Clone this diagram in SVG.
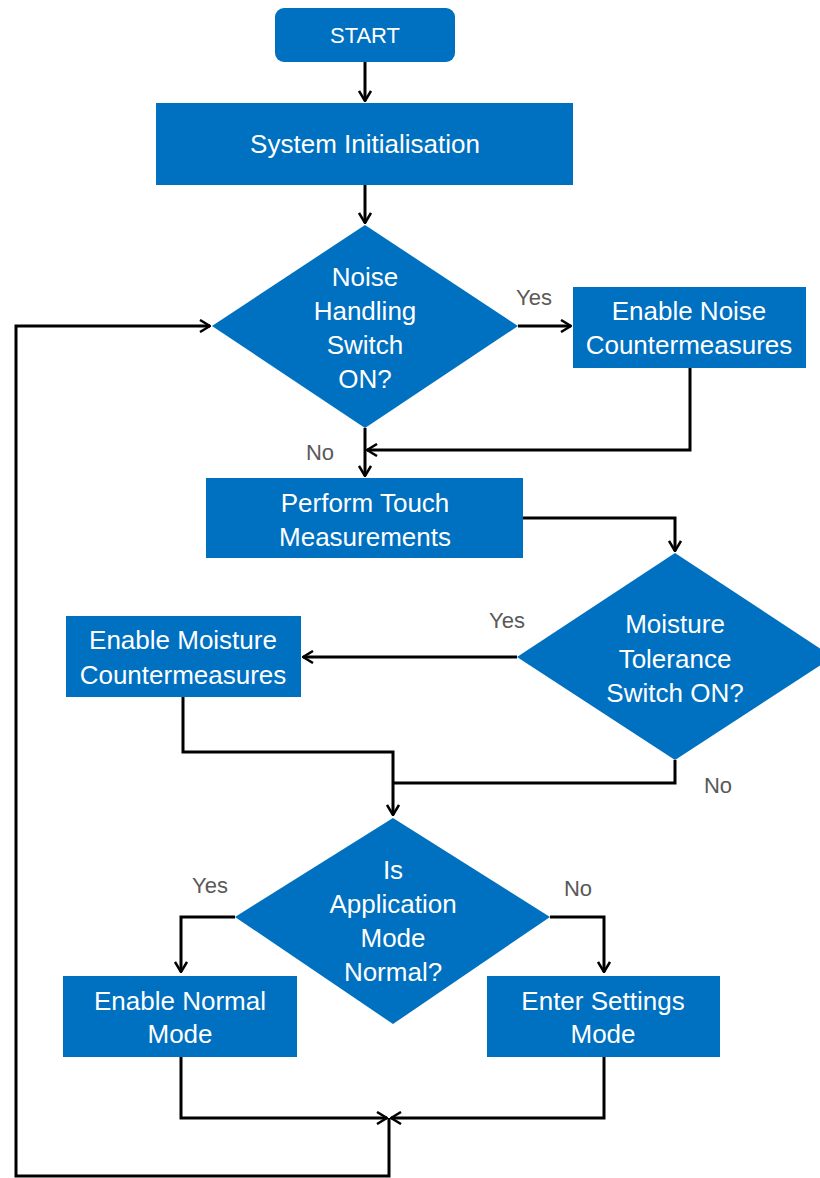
<svg xmlns="http://www.w3.org/2000/svg" width="820" height="1178" viewBox="0 0 820 1178">
<style>
.box{fill:#0070C0}
.t{font-family:"Liberation Sans",Arial,sans-serif;font-size:26px;fill:#fff;text-anchor:middle}
.lbl{font-family:"Liberation Sans",Arial,sans-serif;font-size:22px;fill:#595959;text-anchor:middle}
.c{fill:none;stroke:#000;stroke-width:3}
</style>
<defs>
<marker id="ah" markerUnits="userSpaceOnUse" viewBox="0 0 12 14" refX="11" refY="7" markerWidth="12" markerHeight="14" orient="auto">
<path d="M1,1 L11,7 L1,13" fill="none" stroke="#000" stroke-width="2.5"/>
</marker>
</defs>
<rect width="820" height="1178" fill="#fff"/>
<g id="connectors">
<path class="c" d="M365,62 V101" marker-end="url(#ah)"/>
<path class="c" d="M365,185 V223" marker-end="url(#ah)"/>
<path class="c" d="M518,326 H571" marker-end="url(#ah)"/>
<path class="c" d="M690,368 V450 H367" marker-end="url(#ah)"/>
<path class="c" d="M365,428 V476" marker-end="url(#ah)"/>
<path class="c" d="M523,518 H675 V551" marker-end="url(#ah)"/>
<path class="c" d="M517,657 H303" marker-end="url(#ah)"/>
<path class="c" d="M183,697 V752 H393 V815" marker-end="url(#ah)"/>
<path class="c" d="M675,760 V783 H393"/>
<path class="c" d="M235,917 H181 V972" marker-end="url(#ah)"/>
<path class="c" d="M550,917 H604 V972" marker-end="url(#ah)"/>
<path class="c" d="M181,1057 V1118 H387" marker-end="url(#ah)"/>
<path class="c" d="M604,1057 V1118 H391" marker-end="url(#ah)"/>
<path class="c" d="M389,1118 V1176 H16 V326 H210" marker-end="url(#ah)"/>
</g>
<g id="start">
<rect class="box" x="275" y="8" width="180" height="54" rx="9"/>
<text class="t" x="365" y="43" style="font-size:22px">START</text>
</g>
<g id="init">
<rect class="box" x="156" y="103" width="417" height="82"/>
<text class="t" x="365" y="153">System Initialisation</text>
</g>
<g id="noise-decision">
<polygon class="box" points="365,225 518,326 365,428 212,326"/>
<text class="t" x="365" y="286">Noise</text>
<text class="t" x="365" y="320">Handling</text>
<text class="t" x="365" y="354">Switch</text>
<text class="t" x="365" y="388">ON?</text>
</g>
<text class="lbl" x="534" y="305">Yes</text>
<g id="noise-cm">
<rect class="box" x="573" y="287" width="233" height="81"/>
<text class="t" x="689" y="320">Enable Noise</text>
<text class="t" x="689" y="354">Countermeasures</text>
</g>
<text class="lbl" x="320" y="460">No</text>
<g id="touch">
<rect class="box" x="206" y="478" width="317" height="80"/>
<text class="t" x="365" y="512">Perform Touch</text>
<text class="t" x="365" y="546">Measurements</text>
</g>
<g id="moisture-decision">
<polygon class="box" points="675,553 833,657 675,760 517,657"/>
<text class="t" x="675" y="633">Moisture</text>
<text class="t" x="675" y="668">Tolerance</text>
<text class="t" x="675" y="702">Switch ON?</text>
</g>
<text class="lbl" x="507" y="628">Yes</text>
<g id="moisture-cm">
<rect class="box" x="66" y="616" width="235" height="81"/>
<text class="t" x="183" y="649">Enable Moisture</text>
<text class="t" x="183" y="684">Countermeasures</text>
</g>
<text class="lbl" x="718" y="793">No</text>
<g id="app-decision">
<polygon class="box" points="393,818 550,917 393,1024 235,917"/>
<text class="t" x="393" y="879">Is</text>
<text class="t" x="393" y="913">Application</text>
<text class="t" x="393" y="947">Mode</text>
<text class="t" x="393" y="981">Normal?</text>
</g>
<text class="lbl" x="210" y="893">Yes</text>
<text class="lbl" x="578" y="896">No</text>
<g id="normal">
<rect class="box" x="63" y="976" width="234" height="81"/>
<text class="t" x="180" y="1010">Enable Normal</text>
<text class="t" x="180" y="1043">Mode</text>
</g>
<g id="settings">
<rect class="box" x="487" y="976" width="233" height="81"/>
<text class="t" x="603" y="1010">Enter Settings</text>
<text class="t" x="603" y="1043">Mode</text>
</g>
</svg>
